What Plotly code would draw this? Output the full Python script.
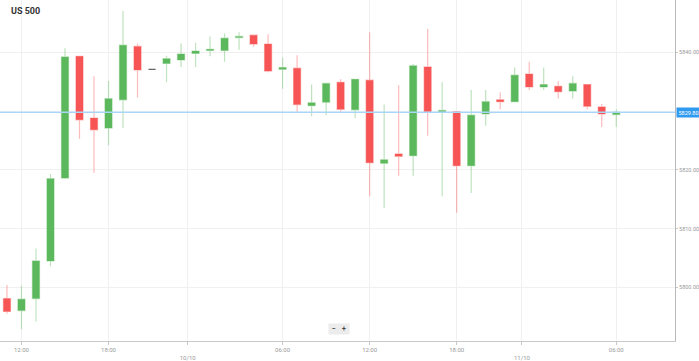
import plotly.graph_objects as go

# ---- data (hourly candles, US 500) ----
candle_idx = list(range(43))
opens = [5798.1, 5796.05, 5798.1, 5804.5, 5818.6, 5839.3, 5828.8, 5827.1, 5831.9, 5841.0,
         5837.1, 5838.1, 5838.7, 5839.8, 5840.3, 5840.3, 5842.5, 5842.9, 5841.4, 5837.1,
         5837.3, 5830.9, 5831.5, 5834.9, 5830.2, 5835.25, 5821.1, 5822.7, 5822.4, 5837.5,
         5829.9, 5829.9, 5820.7, 5829.5, 5831.9, 5831.6, 5836.3, 5834.1, 5834.2, 5833.4,
         5834.5, 5830.7, 5829.4]
highs = [5800.4, 5800.3, 5806.6, 5819.3, 5840.7, 5839.4, 5835.9, 5835.1, 5847.0, 5841.5,
         5837.1, 5839.4, 5841.5, 5841.6, 5842.7, 5843.2, 5843.4, 5843.0, 5843.05, 5839.1,
         5839.5, 5834.5, 5834.8, 5835.4, 5835.5, 5843.4, 5831.1, 5834.4, 5838.0, 5844.0,
         5834.9, 5830.0, 5833.6, 5833.6, 5833.2, 5837.4, 5838.4, 5837.4, 5835.1, 5835.9,
         5834.5, 5831.2, 5830.3]
lows = [5795.5, 5792.9, 5794.2, 5803.6, 5818.4, 5825.3, 5819.5, 5824.2, 5827.1, 5832.3,
        5837.1, 5834.9, 5837.5, 5837.5, 5839.3, 5838.4, 5840.4, 5841.0, 5836.6, 5833.8,
        5829.9, 5829.1, 5829.3, 5829.9, 5828.8, 5815.5, 5813.5, 5819.0, 5819.0, 5825.8,
        5815.5, 5812.7, 5816.05, 5827.5, 5830.3, 5831.5, 5833.6, 5833.6, 5832.15, 5832.15,
        5830.3, 5827.3, 5827.3]
closes = [5795.9, 5798.0, 5804.5, 5818.5, 5839.2, 5828.5, 5826.8, 5832.1, 5841.2, 5837.0,
          5837.1, 5838.9, 5839.7, 5840.2, 5840.5, 5842.4, 5842.7, 5841.4, 5836.8, 5837.4,
          5831.1, 5831.4, 5834.7, 5830.3, 5835.4, 5821.2, 5821.7, 5822.3, 5837.7, 5829.9,
          5830.1, 5820.7, 5829.3, 5831.6, 5831.6, 5836.1, 5834.1, 5834.5, 5833.3, 5834.7,
          5830.8, 5829.5, 5829.8]
last_price = 5829.80

tick_pos = [1, 7, 12.46, 19, 25, 31, 35.5, 42]
tick_text = ["12:00", "18:00", "<br>10/10", "06:00", "12:00", "18:00", "<br>11/10", "06:00"]
y_ticks = [5800, 5810, 5820, 5840]
y_tick_text = ["5800.00", "5810.00", "5820.00", "5840.00"]

# ---- split flat (doji) candles from the rest ----
flat = [i for i in candle_idx if opens[i] == closes[i]]
moving = [i for i in candle_idx if opens[i] != closes[i]]

GREEN = "#5cb85c"
RED = "#f75555"

fig = go.Figure()
fig.add_trace(go.Candlestick(
    x=[candle_idx[i] for i in moving],
    open=[opens[i] for i in moving], high=[highs[i] for i in moving],
    low=[lows[i] for i in moving], close=[closes[i] for i in moving],
    increasing=dict(fillcolor=GREEN, line=dict(color="rgba(92,184,92,0.4)", width=1.2)),
    decreasing=dict(fillcolor=RED, line=dict(color="rgba(247,85,85,0.4)", width=1.2)),
    showlegend=False, hoverinfo="skip",
))
fig.add_trace(go.Candlestick(
    x=[candle_idx[i] for i in flat],
    open=[opens[i] for i in flat], high=[highs[i] for i in flat],
    low=[lows[i] for i in flat], close=[closes[i] for i in flat],
    increasing=dict(fillcolor="#666666", line=dict(color="#666666", width=1.3)),
    decreasing=dict(fillcolor="#666666", line=dict(color="#666666", width=1.3)),
    showlegend=False, hoverinfo="skip",
))

# current price line
fig.add_hline(y=last_price, line=dict(color="#a9d5f7", width=1.6), layer="above")
fig.add_annotation(x=1, xref="paper", y=last_price, yref="y", xanchor="left", yanchor="middle",
                   text="%.2f" % last_price, showarrow=False, bgcolor="#2e9af0",
                   font=dict(family="Roboto", size=5.5, color="white"), borderpad=1.5, xshift=1)

# title
fig.add_annotation(x=9 / 677, xref="paper", y=1 - 11 / 344, yref="paper", xanchor="left",
                   yanchor="middle", text="<b>US 500</b>", showarrow=False,
                   font=dict(family="Roboto", size=9, color="#333333"))

# zoom buttons
for txt, px in [("−", 335), ("+", 345.5)]:
    fig.add_annotation(x=px / 677, xref="paper", y=1 - 332 / 344, yref="paper",
                       xanchor="center", yanchor="middle", text="<b>%s</b>" % txt,
                       showarrow=False, bgcolor="#ececec",
                       font=dict(family="Roboto", size=7, color="#444444"),
                       borderpad=1, width=8, height=8)

fig.update_layout(
    width=699, height=361,
    margin=dict(l=0, r=22, t=0, b=17),
    paper_bgcolor="white", plot_bgcolor="white",
    xaxis=dict(
        range=[-0.48, 46.05], rangeslider=dict(visible=False),
        tickmode="array", tickvals=tick_pos, ticktext=tick_text,
        showgrid=True, gridcolor="#f0f0f0", gridwidth=1,
        showline=True, linecolor="#c8c8c8", linewidth=1,
        ticks="outside", ticklen=3, tickcolor="#c8c8c8",
        tickfont=dict(family="Roboto", size=6, color="#999999"),
        zeroline=False, fixedrange=True,
    ),
    yaxis=dict(
        range=[5790.88, 5848.89], side="right",
        tickmode="array", tickvals=y_ticks, ticktext=y_tick_text,
        showgrid=True, gridcolor="#f0f0f0", gridwidth=1,
        showline=True, linecolor="#b8b8b8", linewidth=1,
        ticks="outside", ticklen=2, tickcolor="#c8c8c8",
        tickfont=dict(family="Roboto", size=5.5, color="#999999"),
        zeroline=False, fixedrange=True,
    ),
)

fig.write_html("out.html", config={"displayModeBar": False},
               post_script="document.body.style.margin='0px';")
